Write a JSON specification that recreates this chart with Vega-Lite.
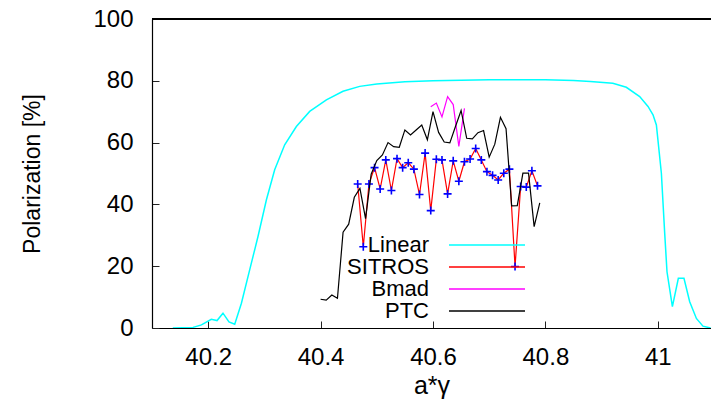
{
  "$schema": "https://vega.github.io/schema/vega-lite/v6.json",
  "width": 559,
  "height": 309,
  "autosize": {"type": "none"},
  "padding": {"left": 152, "top": 19, "right": 0, "bottom": 71},
  "background": "white",
  "config": {
    "view": {"stroke": null},
    "font": "Liberation Sans",
    "axis": {"grid": false, "domainColor": "black", "domainWidth": 1.2, "tickColor": "#222", "tickWidth": 1, "labelColor": "black", "titleColor": "black", "labelFont": "Liberation Sans", "titleFont": "Liberation Sans", "titleFontWeight": "normal"}
  },
  "datasets": {
    "curves": [
      {"s": "Linear", "x": 40.137, "y": 0},
      {"s": "Linear", "x": 40.173, "y": 0.2},
      {"s": "Linear", "x": 40.188, "y": 1.0},
      {"s": "Linear", "x": 40.2055, "y": 2.8},
      {"s": "Linear", "x": 40.2157, "y": 2.4},
      {"s": "Linear", "x": 40.2263, "y": 4.8},
      {"s": "Linear", "x": 40.237, "y": 2.0},
      {"s": "Linear", "x": 40.2472, "y": 1.2},
      {"s": "Linear", "x": 40.2591, "y": 8.0},
      {"s": "Linear", "x": 40.2738, "y": 18.8},
      {"s": "Linear", "x": 40.2886, "y": 29.6},
      {"s": "Linear", "x": 40.3036, "y": 41.5},
      {"s": "Linear", "x": 40.3183, "y": 51.2},
      {"s": "Linear", "x": 40.3361, "y": 59.3},
      {"s": "Linear", "x": 40.3569, "y": 65.2},
      {"s": "Linear", "x": 40.3806, "y": 70.1},
      {"s": "Linear", "x": 40.4103, "y": 73.8},
      {"s": "Linear", "x": 40.4399, "y": 76.6},
      {"s": "Linear", "x": 40.4696, "y": 78.2},
      {"s": "Linear", "x": 40.5, "y": 79.0},
      {"s": "Linear", "x": 40.55, "y": 79.7},
      {"s": "Linear", "x": 40.6, "y": 80.0},
      {"s": "Linear", "x": 40.65, "y": 80.2},
      {"s": "Linear", "x": 40.7, "y": 80.3},
      {"s": "Linear", "x": 40.75, "y": 80.3},
      {"s": "Linear", "x": 40.8, "y": 80.3},
      {"s": "Linear", "x": 40.85, "y": 80.1},
      {"s": "Linear", "x": 40.88, "y": 79.8},
      {"s": "Linear", "x": 40.92, "y": 79.2},
      {"s": "Linear", "x": 40.944, "y": 77.9},
      {"s": "Linear", "x": 40.9678, "y": 74.9},
      {"s": "Linear", "x": 40.9826, "y": 71.7},
      {"s": "Linear", "x": 40.9915, "y": 69.0},
      {"s": "Linear", "x": 40.9975, "y": 65.7},
      {"s": "Linear", "x": 41.0064, "y": 50.1},
      {"s": "Linear", "x": 41.0123, "y": 30.7},
      {"s": "Linear", "x": 41.0164, "y": 18.2},
      {"s": "Linear", "x": 41.026, "y": 6.9},
      {"s": "Linear", "x": 41.0366, "y": 16.1},
      {"s": "Linear", "x": 41.0466, "y": 16.1},
      {"s": "Linear", "x": 41.0568, "y": 8.5},
      {"s": "Linear", "x": 41.0687, "y": 3.1},
      {"s": "Linear", "x": 41.0804, "y": 0.6},
      {"s": "Linear", "x": 41.094, "y": 0},
      {"s": "SITROS", "x": 40.466, "y": 46.6},
      {"s": "SITROS", "x": 40.476, "y": 26.3},
      {"s": "SITROS", "x": 40.486, "y": 46.6},
      {"s": "SITROS", "x": 40.496, "y": 51.9},
      {"s": "SITROS", "x": 40.506, "y": 45.0},
      {"s": "SITROS", "x": 40.516, "y": 54.4},
      {"s": "SITROS", "x": 40.526, "y": 44.5},
      {"s": "SITROS", "x": 40.536, "y": 54.8},
      {"s": "SITROS", "x": 40.546, "y": 51.9},
      {"s": "SITROS", "x": 40.556, "y": 53.5},
      {"s": "SITROS", "x": 40.566, "y": 51.4},
      {"s": "SITROS", "x": 40.576, "y": 43.2},
      {"s": "SITROS", "x": 40.586, "y": 56.6},
      {"s": "SITROS", "x": 40.596, "y": 38.0},
      {"s": "SITROS", "x": 40.606, "y": 54.6},
      {"s": "SITROS", "x": 40.616, "y": 54.4},
      {"s": "SITROS", "x": 40.626, "y": 43.4},
      {"s": "SITROS", "x": 40.636, "y": 54.1},
      {"s": "SITROS", "x": 40.646, "y": 47.5},
      {"s": "SITROS", "x": 40.656, "y": 53.8},
      {"s": "SITROS", "x": 40.666, "y": 54.7},
      {"s": "SITROS", "x": 40.676, "y": 58.1},
      {"s": "SITROS", "x": 40.686, "y": 54.4},
      {"s": "SITROS", "x": 40.696, "y": 50.6},
      {"s": "SITROS", "x": 40.706, "y": 49.4},
      {"s": "SITROS", "x": 40.716, "y": 47.9},
      {"s": "SITROS", "x": 40.726, "y": 50.1},
      {"s": "SITROS", "x": 40.736, "y": 51.4},
      {"s": "SITROS", "x": 40.746, "y": 19.9},
      {"s": "SITROS", "x": 40.756, "y": 45.8},
      {"s": "SITROS", "x": 40.766, "y": 45.6},
      {"s": "SITROS", "x": 40.776, "y": 50.9},
      {"s": "SITROS", "x": 40.786, "y": 46.0},
      {"s": "Bmad", "x": 40.596, "y": 71.6},
      {"s": "Bmad", "x": 40.606, "y": 72.8},
      {"s": "Bmad", "x": 40.616, "y": 68.3},
      {"s": "Bmad", "x": 40.626, "y": 74.9},
      {"s": "Bmad", "x": 40.636, "y": 72.3},
      {"s": "Bmad", "x": 40.646, "y": 58.8},
      {"s": "Bmad", "x": 40.656, "y": 71.1},
      {"s": "PTC", "x": 40.40, "y": 9.3},
      {"s": "PTC", "x": 40.41, "y": 9.0},
      {"s": "PTC", "x": 40.42, "y": 10.7},
      {"s": "PTC", "x": 40.43, "y": 9.6},
      {"s": "PTC", "x": 40.44, "y": 31.0},
      {"s": "PTC", "x": 40.45, "y": 33.6},
      {"s": "PTC", "x": 40.46, "y": 42.3},
      {"s": "PTC", "x": 40.47, "y": 45.2},
      {"s": "PTC", "x": 40.48, "y": 35.4},
      {"s": "PTC", "x": 40.49, "y": 49.8},
      {"s": "PTC", "x": 40.50, "y": 54.2},
      {"s": "PTC", "x": 40.51, "y": 56.0},
      {"s": "PTC", "x": 40.52, "y": 60.0},
      {"s": "PTC", "x": 40.53, "y": 58.7},
      {"s": "PTC", "x": 40.54, "y": 58.5},
      {"s": "PTC", "x": 40.55, "y": 64.1},
      {"s": "PTC", "x": 40.56, "y": 62.5},
      {"s": "PTC", "x": 40.57, "y": 64.1},
      {"s": "PTC", "x": 40.58, "y": 65.7},
      {"s": "PTC", "x": 40.59, "y": 60.9},
      {"s": "PTC", "x": 40.60, "y": 70.0},
      {"s": "PTC", "x": 40.61, "y": 63.3},
      {"s": "PTC", "x": 40.62, "y": 60.2},
      {"s": "PTC", "x": 40.63, "y": 59.9},
      {"s": "PTC", "x": 40.64, "y": 65.2},
      {"s": "PTC", "x": 40.65, "y": 70.4},
      {"s": "PTC", "x": 40.66, "y": 61.4},
      {"s": "PTC", "x": 40.67, "y": 61.2},
      {"s": "PTC", "x": 40.68, "y": 63.2},
      {"s": "PTC", "x": 40.69, "y": 63.9},
      {"s": "PTC", "x": 40.70, "y": 55.3},
      {"s": "PTC", "x": 40.71, "y": 59.5},
      {"s": "PTC", "x": 40.72, "y": 68.2},
      {"s": "PTC", "x": 40.73, "y": 64.5},
      {"s": "PTC", "x": 40.74, "y": 39.5},
      {"s": "PTC", "x": 40.75, "y": 39.6},
      {"s": "PTC", "x": 40.76, "y": 50.1},
      {"s": "PTC", "x": 40.77, "y": 50.1},
      {"s": "PTC", "x": 40.78, "y": 32.8},
      {"s": "PTC", "x": 40.79, "y": 40.5}
    ]
  },
  "data": {"name": "curves"},
  "layer": [
    {
      "transform": [{"filter": "datum.s == 'Linear'"}],
      "mark": {"type": "line", "strokeWidth": 1.5, "clip": true},
      "encoding": {
        "x": {"field": "x", "type": "quantitative", "scale": {"domain": [40.1, 41.0947], "nice": false, "zero": false},
          "axis": {"orient": "bottom", "values": [40.2, 40.4, 40.6, 40.8, 41], "format": "~g", "tickSize": -7, "labelPadding": 24, "labelFontSize": 24, "title": "a*γ", "titleFontSize": 25, "titlePadding": 4}},
        "y": {"field": "y", "type": "quantitative", "scale": {"domain": [0, 100], "nice": false},
          "axis": {"orient": "left", "values": [0, 20, 40, 60, 80, 100], "tickSize": -7, "labelPadding": 26, "labelFontSize": 24, "title": "Polarization [%]", "titleFontSize": 23, "titlePadding": 48}},
        "color": {"field": "s", "type": "nominal", "scale": {"domain": ["Linear", "SITROS", "Bmad", "PTC"], "range": ["#00ffff", "#ff0000", "#ff00ff", "#000000"]},
          "legend": {"orient": "none", "legendX": 324, "legendY": 215, "title": null, "padding": 0, "symbolType": "M-4,0L4,0", "symbolSize": 361, "symbolStrokeWidth": 1.5, "labelAlign": "right", "labelOffset": -69, "labelFontSize": 22, "labelFont": "Liberation Sans", "labelColor": "black", "rowPadding": 0}}
      }
    },
    {
      "transform": [{"filter": "datum.s == 'SITROS'"}],
      "mark": {"type": "line", "strokeWidth": 1.2},
      "encoding": {
        "x": {"field": "x", "type": "quantitative"},
        "y": {"field": "y", "type": "quantitative"},
        "color": {"field": "s", "type": "nominal"}
      }
    },
    {
      "transform": [{"filter": "datum.s == 'SITROS'"}],
      "mark": {"type": "point", "shape": "M-1,0L1,0M0,-1L0,1", "size": 64, "filled": false, "stroke": "#0000ff", "strokeWidth": 1.6, "opacity": 1},
      "encoding": {
        "x": {"field": "x", "type": "quantitative"},
        "y": {"field": "y", "type": "quantitative"}
      }
    },
    {
      "transform": [{"filter": "datum.s == 'Bmad'"}],
      "mark": {"type": "line", "strokeWidth": 1.2},
      "encoding": {
        "x": {"field": "x", "type": "quantitative"},
        "y": {"field": "y", "type": "quantitative"},
        "color": {"field": "s", "type": "nominal"}
      }
    },
    {
      "transform": [{"filter": "datum.s == 'PTC'"}],
      "mark": {"type": "line", "strokeWidth": 1.2},
      "encoding": {
        "x": {"field": "x", "type": "quantitative"},
        "y": {"field": "y", "type": "quantitative"},
        "color": {"field": "s", "type": "nominal"}
      }
    },
    {
      "mark": {"type": "rule", "color": "black", "strokeWidth": 1.2},
      "encoding": {"y": {"datum": 100, "type": "quantitative"}}
    }
  ]
}
